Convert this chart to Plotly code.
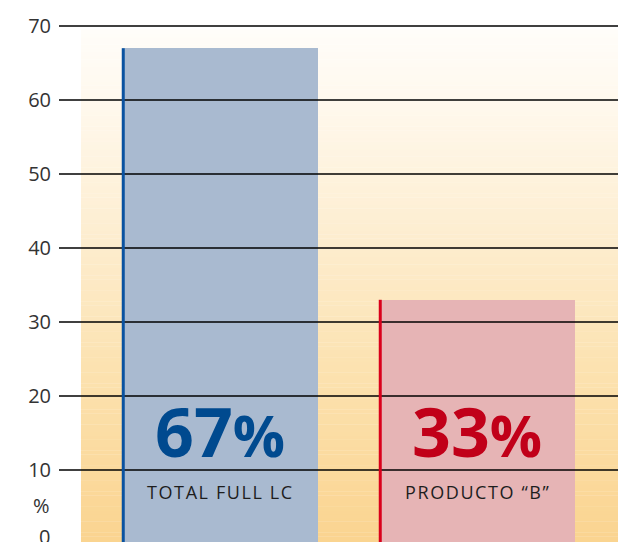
import plotly.graph_objects as go

categories = ["TOTAL FULL LC", "PRODUCTO \u201cB\u201d"]
values = [67, 33]
pct_labels = ["67", "33"]
bar_colors = ["#A9BAD0", "#E6B4B5"]
edge_colors = ["#0A52A0", "#D9001B"]
text_colors = ["#004A8F", "#C10019"]
tick_vals = [10, 20, 30, 40, 50, 60, 70]

W, H = 618, 542
BAR_W = 0.763
XR = [-0.6265, 1.5486]
YR = [0.27, 73.51]

# background gradient stops (value position -> colour), bottom to top
grad_pos = [0.0, 0.35, 0.6, 0.85, 1.0]
grad_rgb = [(250, 211, 142), (252, 226, 176), (253, 237, 207), (255, 248, 236), (255, 253, 249)]


def grad_color(f):
    for k in range(len(grad_pos) - 1):
        if grad_pos[k] <= f <= grad_pos[k + 1]:
            t = (f - grad_pos[k]) / (grad_pos[k + 1] - grad_pos[k])
            a, b = grad_rgb[k], grad_rgb[k + 1]
            return "rgb(%d,%d,%d)" % tuple(round(a[j] + (b[j] - a[j]) * t) for j in range(3))
    return "rgb(%d,%d,%d)" % grad_rgb[-1]


fig = go.Figure()

x_pos = list(range(len(categories)))
fig.add_trace(go.Bar(
    x=x_pos, y=values, width=BAR_W, marker=dict(color=bar_colors, line=dict(width=0)),
    hoverinfo="skip", showlegend=False))

shapes = []
bx0, bx1, by0, by1 = -0.541, XR[1] + 0.1, -1.0, 69.46
n_bands = 140
for k in range(n_bands):
    y0 = by0 + (by1 - by0) * k / n_bands
    y1 = by0 + (by1 - by0) * (k + 1) / n_bands
    shapes.append(dict(type="rect", xref="x", yref="y", x0=bx0, x1=bx1, y0=y0, y1=y1 + 0.05,
                       fillcolor=grad_color((k + 0.5) / n_bands), line=dict(width=0),
                       layer="below"))
for t in tick_vals:
    shapes.append(dict(type="line", xref="paper", x0=0, x1=1, yref="y", y0=t, y1=t,
                       line=dict(color="#000000", width=1.3), layer="above"))
for i, v in enumerate(values):
    xe = x_pos[i] - BAR_W / 2 + 0.005
    shapes.append(dict(type="line", xref="x", x0=xe, x1=xe, yref="y", y0=YR[0] - 1, y1=v,
                       line=dict(color=edge_colors[i], width=3), layer="above"))

annotations = []
for i, (c, p) in enumerate(zip(categories, pct_labels)):
    annotations.append(dict(
        x=x_pos[i], y=15.3, xref="x", yref="y", showarrow=False,
        text=f"<b>{p}<span style='font-size:58px'>%</span></b>",
        font=dict(family="Open Sans", size=68, color=text_colors[i]),
        xanchor="center", yanchor="middle"))
    annotations.append(dict(
        x=x_pos[i], y=7.0, xref="x", yref="y", showarrow=False,
        text=f"<span style='letter-spacing:1.6px'>{c}</span>",
        font=dict(family="Open Sans", size=18, color="#1e1e1e"),
        xanchor="center", yanchor="middle"))

annotations.append(dict(x=-0.031, y=(H - 505) / H, xref="paper", yref="paper", showarrow=False,
                        text="%", font=dict(family="Open Sans", size=20, color="#333333"),
                        xanchor="center", yanchor="middle"))
annotations.append(dict(x=-0.0125, y=(H - 536) / H, xref="paper", yref="paper", showarrow=False,
                        text="0", font=dict(family="Open Sans", size=20, color="#333333"),
                        xanchor="right", yanchor="middle"))

fig.update_layout(
    width=W, height=H,
    margin=dict(l=59, r=0, t=0, b=0, pad=0),
    paper_bgcolor="white", plot_bgcolor="white",
    xaxis=dict(range=XR, showgrid=False, zeroline=False, showticklabels=False,
               showline=False, fixedrange=True),
    yaxis=dict(range=YR, tickvals=tick_vals, showgrid=False, zeroline=False,
               showline=False, ticks="", ticklabelstandoff=7,
               tickfont=dict(family="Open Sans", size=20, color="#333333")),
    shapes=shapes, annotations=annotations, bargap=0,
)

fig.write_html("out.html", config={"displayModeBar": False},
               post_script="document.body.style.margin='0';document.body.style.overflow='hidden';")
